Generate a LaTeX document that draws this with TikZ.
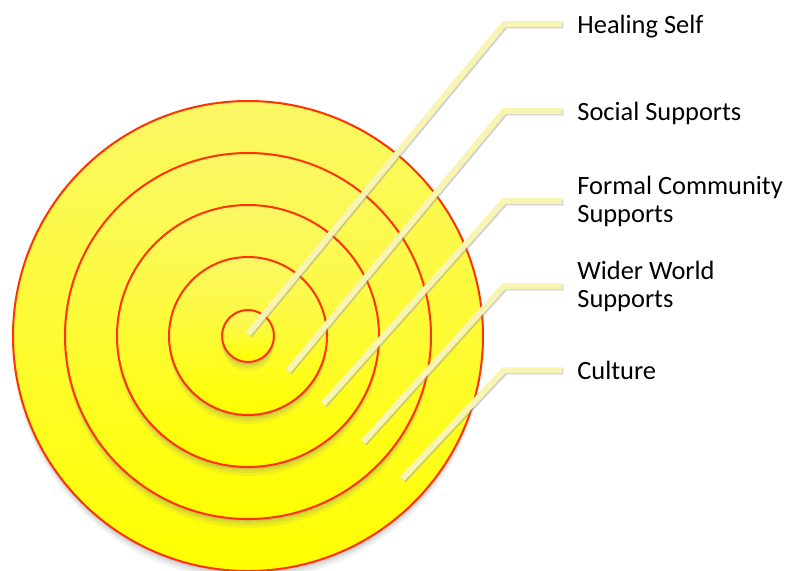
\documentclass[tikz,border=0pt]{standalone}
\usepackage{fontspec}
\setmainfont{Carlito}
\usetikzlibrary{shadows}

\definecolor{ringtop}{HTML}{FBF766}
\definecolor{ringbot}{HTML}{FFFF00}
\definecolor{ringline}{HTML}{FF3300}
\definecolor{leadcol}{HTML}{F8F5B2}

\tikzset{
  ring/.style={circle, draw=ringline, line width=1pt, inner sep=0pt,
    top color=ringtop, bottom color=ringbot,
    drop shadow={opacity=0.10, shadow xshift=0pt, shadow yshift=-4.5pt},
    drop shadow={opacity=0.12, shadow xshift=0pt, shadow yshift=-3pt},
    drop shadow={opacity=0.15, shadow xshift=0pt, shadow yshift=-1.8pt},
    drop shadow={opacity=0.18, shadow xshift=0pt, shadow yshift=-0.9pt}},
  leader/.style={draw=leadcol, line width=3pt,
    preaction={draw=black!40, opacity=0.45, line width=3pt,
      transform canvas={xshift=0.7pt, yshift=-0.7pt}}},
  lab/.style={anchor=west, inner xsep=7.5pt, inner ysep=0pt, align=left,
    font=\fontsize{13.2pt}{14pt}\selectfont}
}

\begin{document}
\begin{tikzpicture}[x=0.5pt, y=-0.5pt]
\useasboundingbox (0,0) rectangle (791,570);

%rings, outside in
\node[ring, minimum size=235pt] (culture) at (248,336) {};
\node[ring, minimum size=183pt] (world) at (248,336) {};
\node[ring, minimum size=131pt] (formal) at (248,336) {};
\node[ring, minimum size=79pt] (social) at (248,336) {};
\node[ring, minimum size=26pt] (self) at (248,336) {};

%labels
\node[lab] (lself) at (562,27) {Healing Self};
\node[lab] (lsocial) at (562,113) {Social Supports};
\node[lab] (lformal) at (562,201) {Formal Community\\Supports};
\node[lab] (lworld) at (562,286) {Wider World\\Supports};
\node[lab] (lculture) at (562,370) {Culture};

%leader ends
\coordinate (pself) at (248,334);
\coordinate (psocial) at (288,371);
\coordinate (pformal) at (323,404);
\coordinate (pworld) at (363,442);
\coordinate (pculture) at (402,479);

\coordinate (kself) at (504,24);
\coordinate (ksocial) at (504,111);
\coordinate (kformal) at (504,201);
\coordinate (kworld) at (504,286);
\coordinate (kculture) at (504,370);

%leaders
\draw[leader] (pself) -- (kself) -- (kself -| lself.west);
\draw[leader] (psocial) -- (ksocial) -- (ksocial -| lsocial.west);
\draw[leader] (pformal) -- (kformal) -- (kformal -| lformal.west);
\draw[leader] (pworld) -- (kworld) -- (kworld -| lworld.west);
\draw[leader] (pculture) -- (kculture) -- (kculture -| lculture.west);

\end{tikzpicture}
\end{document}
